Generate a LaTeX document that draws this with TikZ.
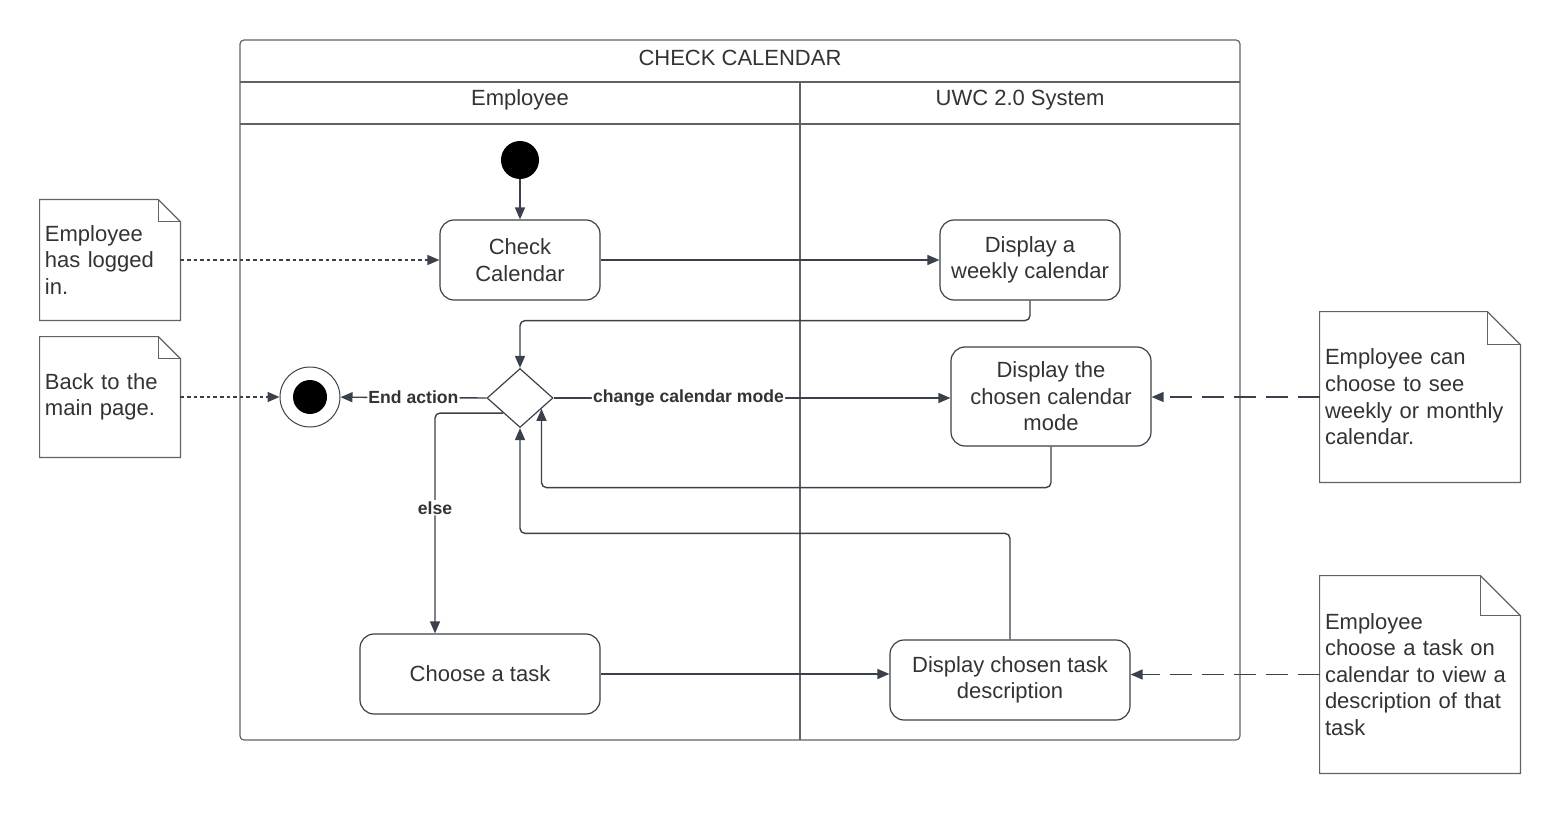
\documentclass[tikz,border=0pt]{standalone}
\usepackage{fontspec}
\setmainfont{Liberation Sans}
\usetikzlibrary{arrows.meta,shapes.geometric,calc}
\definecolor{ln}{HTML}{3A414A}
\definecolor{fr}{HTML}{5F6368}
\definecolor{tx}{HTML}{333333}
\newcommand{\notebox}[2]{%
  \draw[fr, line width=0.6pt] (#1.north west) -- ([xshift=-#2]#1.north east) -- ([yshift=-#2]#1.north east) -- (#1.south east) -- (#1.south west) -- cycle;
  \draw[fr, line width=0.6pt] ([xshift=-#2]#1.north east) |- ([yshift=-#2]#1.north east);}
\begin{document}
\begin{tikzpicture}[x=0.5pt,y=-0.5pt,
 every node/.style={font=\fontsize{11}{13.3}\selectfont, text=tx},
 act/.style={draw=ln, line width=0.6pt, rounded corners=7pt, align=center, inner sep=0pt},
 note/.style={align=left, inner xsep=2.5pt, inner ysep=0pt},
 flow/.style={draw=ln, line width=0.7pt, -{Triangle[length=6pt,width=5pt]}, rounded corners=2.5pt},
 lbl/.style={font=\bfseries\fontsize{8.8}{10}\selectfont, fill=white, inner sep=0.6pt},
 dotl/.style={flow, dash pattern=on 1.8pt off 1.5pt},
 dashl/.style={flow, dash pattern=on 11pt off 5pt},
]
\useasboundingbox (0,0) rectangle (1560,813);
% frame
\draw[fr, line width=0.6pt, rounded corners=2pt] (240,40) rectangle (1240,740);
\draw[fr, line width=0.6pt] (240,82) -- (1240,82) (240,124) -- (1240,124) (800,82) -- (800,740);
\node (title) at (740,58) {CHECK CALENDAR};
\node (lane1) at (520,100) {Employee};
\node (lane2) at (1020,100) {UWC 2.0 System};
% nodes
\node[circle, fill=black, minimum size=19pt, inner sep=0pt] (s) at (520,160) {};
\node[act, minimum width=80pt, minimum height=40pt] (cc) at (520,260) {Check\\Calendar};
\node[act, minimum width=90pt, minimum height=40pt] (wk) at (1030,260) {Display a\\weekly calendar};
\node[diamond, draw=ln, line width=0.6pt, minimum width=33pt, minimum height=29.5pt, inner sep=0pt] (d) at (520,398) {};
\node[circle, draw=ln, line width=0.5pt, minimum size=30pt, inner sep=0pt] (e) at (310,397) {};
\fill (e) circle (8.5pt);
\node[act, minimum width=100pt, minimum height=49.5pt] (cm) at (1051,396.5) {Display the\\chosen calendar\\mode};
\node[act, minimum width=120pt, minimum height=40pt] (ct) at (480,674) {Choose a task};
\node[act, minimum width=120pt, minimum height=40pt] (dt) at (1010,680) {Display chosen task\\description};
% notes
\node[note, text width=65pt, minimum height=60pt] (n1) at (110,260) {Employee\\has logged\\in.};
\notebox{n1}{11pt}
\node[note, text width=95pt, minimum height=60pt, text width=65pt] (n2) at (110,397) {Back to the\\main page.};
\notebox{n2}{11pt}
\node[note, text width=95pt, minimum height=85pt] (n3) at (1420,397) {Employee can\\choose to see\\weekly or monthly\\calendar.};
\notebox{n3}{16.5pt}
\node[note, text width=95pt, minimum height=98.5pt] (n4) at (1420,674.5) {Employee\\choose a task on\\calendar to view a\\description of that\\task};
\notebox{n4}{20pt}
\coordinate (dr) at ($(d.east)!0.36!(d.south)$);
% connectors
\draw[flow] (s) -- (cc);
\draw[dotl] (n1) -- (cc);
\draw[flow] (cc) -- (wk);
\draw[flow] (wk.south) -- ++(0,20) -| (d.north);
\draw[flow] (d.west) -- node[lbl]{End action} (e);
\draw[dotl] (n2) -- (e);
\draw[flow] (d.east) -- node[lbl, pos=0.34]{change calendar mode} (d.east -| cm.west);
\draw[flow] (cm.south) -- ++(0,41) -| (dr);
\draw[flow] (d.south west) -| node[lbl, pos=0.715]{else} ([xshift=-22.5pt]ct.north);
\draw[flow] (ct.east) -- (ct.east -| dt.west);
\draw[flow] (dt.north) -- ++(0,-106) -| (d.south);
\draw[dashl] (n3.west) -- (n3.west -| cm.east);
\draw[dashl] (n4.west) -- (n4.west -| dt.east);
\end{tikzpicture}
\end{document}
